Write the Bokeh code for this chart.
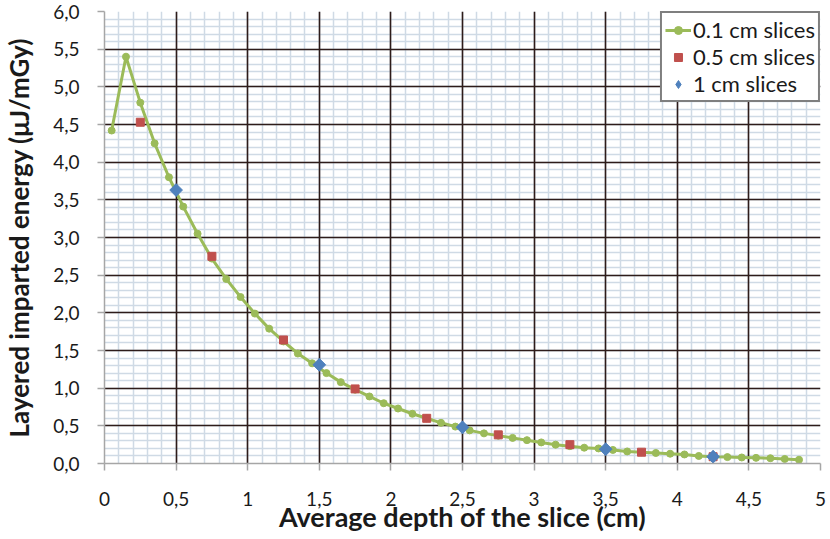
from bokeh.plotting import figure
from bokeh.models import FixedTicker, Legend, LegendItem, Grid
from bokeh.embed import file_html
from bokeh.resources import INLINE
import numpy as np

# ---- data ----
x_01 = [0.05, 0.15, 0.25, 0.35, 0.45, 0.55, 0.65, 0.75, 0.85, 0.95,
        1.05, 1.15, 1.25, 1.35, 1.45, 1.55, 1.65, 1.75, 1.85, 1.95,
        2.05, 2.15, 2.25, 2.35, 2.45, 2.55, 2.65, 2.75, 2.85, 2.95,
        3.05, 3.15, 3.25, 3.35, 3.45, 3.55, 3.65, 3.75, 3.85, 3.95,
        4.05, 4.15, 4.25, 4.35, 4.45, 4.55, 4.65, 4.75, 4.85]
y_01 = [4.42, 5.40, 4.79, 4.25, 3.80, 3.41, 3.05, 2.72, 2.45, 2.21,
        1.99, 1.79, 1.62, 1.46, 1.33, 1.20, 1.08, 0.98, 0.89, 0.80,
        0.73, 0.66, 0.60, 0.54, 0.49, 0.44, 0.40, 0.37, 0.34, 0.31,
        0.28, 0.25, 0.23, 0.21, 0.20, 0.18, 0.16, 0.15, 0.14, 0.13,
        0.12, 0.10, 0.09, 0.085, 0.08, 0.075, 0.07, 0.06, 0.05]

x_05 = [0.25, 0.75, 1.25, 1.75, 2.25, 2.75, 3.25, 3.75, 4.25]
y_05 = [4.53, 2.75, 1.64, 0.99, 0.60, 0.38, 0.25, 0.15, 0.09]

x_1 = [0.5, 1.5, 2.5, 3.5, 4.25]
y_1 = [3.63, 1.31, 0.48, 0.19, 0.09]

x_ticks = [0, 0.5, 1, 1.5, 2, 2.5, 3, 3.5, 4, 4.5, 5]
x_tick_labels = ["0", "0,5", "1", "1,5", "2", "2,5", "3", "3,5", "4", "4,5", "5"]
y_ticks = [0, 0.5, 1, 1.5, 2, 2.5, 3, 3.5, 4, 4.5, 5, 5.5, 6]
y_tick_labels = ["0,0", "0,5", "1,0", "1,5", "2,0", "2,5", "3,0", "3,5",
                 "4,0", "4,5", "5,0", "5,5", "6,0"]

FONT = "Lato"
GREEN = "#9bbb59"
RED = "#c0504d"
BLUE = "#4f81bd"

p = figure(width=830, height=539, output_backend="svg", toolbar_location=None,
           x_range=(0, 5), y_range=(0, 6),
           min_border_left=104, min_border_right=10, min_border_top=11, min_border_bottom=76)
p.outline_line_color = None
p.background_fill_color = "white"

minor_x = [round(v, 2) for v in np.arange(0, 5.001, 0.1)]
minor_y = [round(v, 2) for v in np.arange(0, 6.001, 0.1)]
xt = FixedTicker(ticks=x_ticks, minor_ticks=minor_x)
yt = FixedTicker(ticks=y_ticks, minor_ticks=minor_y)
p.xaxis.ticker = xt
p.yaxis.ticker = yt
p.xaxis.major_label_overrides = {t: l for t, l in zip(x_ticks, x_tick_labels)}
p.yaxis.major_label_overrides = {t: l for t, l in zip(y_ticks, y_tick_labels)}

# default grids: minor lines only
for g in (p.xgrid, p.ygrid):
    g.grid_line_color = None
    g.minor_grid_line_color = "#cfdae5"
    g.minor_grid_line_width = 1.5

# major grid lines drawn on top of all minor lines
for dim, tk in ((0, xt), (1, yt)):
    g = Grid(dimension=dim, ticker=tk, grid_line_color="#2e1c1a", grid_line_width=1.6)
    p.add_layout(g, "center")

for ax in (p.xaxis, p.yaxis):
    ax.axis_line_color = "#a6a6a6"
    ax.axis_line_width = 1.5
    ax.major_tick_line_color = "#a6a6a6"
    ax.major_tick_line_width = 1.5
    ax.major_tick_out = 7
    ax.major_tick_in = 0
    ax.minor_tick_out = 0
    ax.minor_tick_in = 0
    ax.major_label_text_font = FONT
    ax.major_label_text_font_size = "19px"
    ax.major_label_text_color = "#1a1a1a"
    ax.axis_label_text_font = FONT
    ax.axis_label_text_font_style = "bold"
    ax.axis_label_text_color = "#1a1a1a"

p.xaxis.major_label_standoff = 21
p.yaxis.major_label_standoff = 18
p.xaxis.axis_label_text_font_size = "27px"
p.yaxis.axis_label_text_font_size = "26px"
p.xaxis.axis_label = "Average depth of the slice (cm)"
p.yaxis.axis_label = "Layered imparted energy (μJ/mGy)"
p.xaxis.axis_label_standoff = -9
p.yaxis.axis_label_standoff = 15

ln = p.line(x_01, y_01, line_color=GREEN, line_width=3)
pts = p.scatter(x_01, y_01, marker="circle", size=7, fill_color=GREEN, line_color=GREEN)
sq = p.scatter(x_05, y_05, marker="square", size=8, fill_color=RED, line_color=RED)
# diamond glyph (used for the legend key), covered by the rotated squares below
dm_key = p.scatter(x_1, y_1, marker="diamond", size=12, fill_color=BLUE, line_color=BLUE)
dm = p.scatter(x_1, y_1, marker="square", size=9, angle=np.pi / 4,
               fill_color=BLUE, line_color=BLUE)

legend = Legend(items=[
    LegendItem(label="0.1 cm slices", renderers=[ln, pts]),
    LegendItem(label="0.5 cm slices", renderers=[sq]),
    LegendItem(label="1 cm slices", renderers=[dm_key]),
], location="top_right")
legend.margin = 0
legend.border_line_color = "black"
legend.border_line_width = 2
legend.background_fill_color = "white"
legend.background_fill_alpha = 1
legend.label_text_font = FONT
legend.label_text_font_size = "22px"
legend.label_text_color = "#1a1a1a"
legend.glyph_width = 26
legend.glyph_height = 20
legend.label_height = 20
legend.spacing = 0
legend.padding = 3
legend.label_standoff = 2
p.add_layout(legend)

open("out.html", "w").write(file_html(p, INLINE))
